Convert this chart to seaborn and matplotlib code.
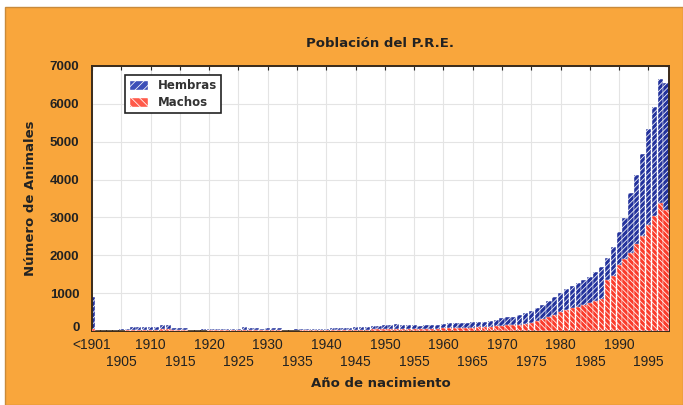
import matplotlib
matplotlib.use("Agg")
import matplotlib.pyplot as plt
import matplotlib.transforms as mtransforms
import numpy as np
import pandas as pd
import seaborn as sns
from matplotlib.patches import Patch, Rectangle

# ── Data ──────────────────────────────────────────────────────────────────────
categorias = ["<1901"] + [str(y) for y in range(1901, 1999)]

# height of the whole stacked bar (hembras + machos)
total = [
    900,
    20, 20, 25, 30, 40, 60, 100, 100, 110, 100,          # 1901-1910
    110, 160, 150, 90, 80, 70, 10, 15, 40, 50,           # 1911-1920
    50, 45, 55, 50, 60, 100, 80, 90, 60, 70,             # 1921-1930
    75, 70, 15, 20, 40, 45, 45, 50, 55, 60,              # 1931-1940
    70, 70, 80, 90, 110, 100, 110, 120, 120, 150,        # 1941-1950
    170, 180, 170, 160, 150, 140, 150, 150, 160, 190,    # 1951-1960
    210, 210, 220, 220, 240, 250, 250, 270, 290, 340,    # 1961-1970
    360, 380, 410, 470, 520, 600, 700, 800, 900, 1000,   # 1971-1980
    1100, 1200, 1260, 1340, 1420, 1550, 1690, 1920, 2220, 2610,  # 1981-1990
    2980, 3640, 4110, 4670, 5330, 5910, 6650, 6550,      # 1991-1998
]
machos = [
    60,
    5, 5, 8, 10, 12, 20, 30, 30, 35, 30,
    35, 50, 45, 30, 25, 20, 3, 5, 12, 15,
    15, 15, 18, 15, 20, 30, 25, 30, 20, 20,
    25, 20, 5, 5, 12, 15, 15, 15, 18, 20,
    22, 22, 25, 30, 35, 30, 35, 40, 40, 50,
    55, 60, 55, 50, 50, 45, 50, 50, 55, 70,
    75, 80, 85, 85, 90, 95, 100, 110, 120, 140,
    150, 160, 170, 190, 220, 260, 320, 380, 430, 500,
    550, 600, 640, 690, 750, 800, 850, 1350, 1450, 1750,
    1900, 2050, 2300, 2500, 2800, 3050, 3380, 3200,
]
etiquetas_decadas = ["<1901"] + [str(y) for y in range(1910, 1999, 10)]
etiquetas_quinquenios = [str(y) for y in range(1905, 1999, 10)]

NARANJA = "#F9A63C"
AZUL = "#23329C"
ROJO = "#FA3C2C"

df = pd.DataFrame({"anio": categorias, "total": total, "machos": machos})

sns.set_style("white")
plt.rcParams["font.family"] = ["DejaVu Sans"]
plt.rcParams["hatch.linewidth"] = 0.55

fig = plt.figure(figsize=(6.83, 4.05), dpi=100, facecolor="white")
fig.patches.append(Rectangle((5 / 683, 0), 678 / 683, 398 / 405,
                             transform=fig.transFigure, facecolor=NARANJA,
                             edgecolor="#c98a3a", linewidth=1.0, zorder=-10))
ax = fig.add_axes([92 / 683, 1 - 331 / 405, 577 / 683, 265 / 405])
ax.set_facecolor("white")

sns.barplot(data=df, x="anio", y="total", order=categorias, color=AZUL,
            saturation=1, width=0.9, edgecolor="white", linewidth=0.3,
            hatch="//////", ax=ax, zorder=2)
sns.barplot(data=df, x="anio", y="machos", order=categorias, color=ROJO,
            saturation=1, width=0.9, edgecolor="white", linewidth=0.3,
            hatch="\\\\\\\\\\\\", ax=ax, zorder=3)

ax.set_xlim(0, 98.5)
ax.set_ylim(0, 7000)
ax.set_yticks(np.arange(0, 7001, 1000))
ax.set_yticklabels([str(v) for v in range(0, 7001, 1000)],
                   fontsize=9.5, color="#3a3a3a", fontweight="bold",
                   family="Liberation Sans")

# two rows of year labels: decades on top, the 5s underneath
ax.set_xticks(np.arange(0, 99, 10))
ax.set_xticklabels(etiquetas_decadas, fontsize=10, color="#222222",
                   family="Liberation Sans")
ax.set_xticks(np.arange(5, 99, 10), minor=True)
ax.set_xticklabels(etiquetas_quinquenios, minor=True, fontsize=10,
                   color="#222222", family="Liberation Sans")

ax.tick_params(axis="both", which="both", direction="in", length=3,
               width=0.8, top=True, right=True, colors="#222222")
ax.tick_params(axis="y", pad=9)
ax.tick_params(axis="x", which="major", bottom=False, pad=5)
ax.tick_params(axis="x", which="minor", bottom=False, pad=17)
ax.grid(True, which="both", color="#e4e4e4", linewidth=0.8, zorder=0)
ax.set_axisbelow(True)
for s in ax.spines.values():
    s.set_color("#3a2a1a")
    s.set_linewidth(1.4)
    s.set_visible(True)

# lift the "0" a little so it clears "<1901" (after tick_params, which resets it)
cero = ax.yaxis.get_major_ticks()[0].label1
cero.set_transform(cero.get_transform()
                   + mtransforms.ScaledTranslation(0, 3 / 72, fig.dpi_scale_trans))

ax.set_xlabel("Año de nacimiento", fontsize=9.5, fontweight="bold",
              color="#222222", labelpad=6)
ax.set_ylabel("Número de Animales", fontsize=9.5, fontweight="bold",
              color="#222222", labelpad=9)
ax.set_title("Población del P.R.E.", fontsize=9.5, fontweight="bold",
             color="#222222", pad=14)

handles = [Patch(facecolor="#3d4fb8", edgecolor="white", hatch="////",
                 label="Hembras"),
           Patch(facecolor="#ff5a4a", edgecolor="white", hatch="\\\\\\\\",
                 label="Machos")]
leg = ax.legend(handles=handles, loc="upper left",
                bbox_to_anchor=(0.047, 0.99), frameon=True, fancybox=False,
                edgecolor="#222222", framealpha=1, borderpad=0.35,
                handlelength=1.6, handleheight=0.9, labelspacing=0.35,
                prop={"family": "DejaVu Sans", "size": 8.5, "weight": "bold"})
leg.get_frame().set_linewidth(1.2)
for t in leg.get_texts():
    t.set_color("#333333")

fig.savefig("out.png", dpi=100, facecolor=fig.get_facecolor())
